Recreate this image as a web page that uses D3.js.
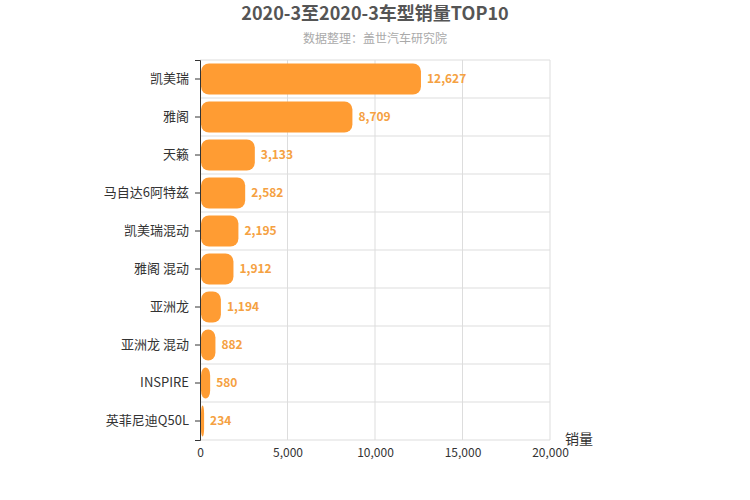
<!DOCTYPE html>
<html><head><meta charset="utf-8">
<script src="https://cdn.jsdelivr.net/npm/d3@7"></script>
<style>body{margin:0;background:#fff}</style></head>
<body><svg id="c" width="750" height="500"></svg>
<script>
const categories=["凯美瑞","雅阁","天籁","马自达6阿特兹","凯美瑞混动","雅阁 混动","亚洲龙","亚洲龙 混动","INSPIRE","英菲尼迪Q50L"];
const values=[12627,8709,3133,2582,2195,1912,1194,882,580,234];
const xTicks=[0,5000,10000,15000,20000];
const title="2020-3至2020-3车型销量TOP10", subtitle="数据整理：盖世汽车研究院", axisName="销量";
const svg=d3.select("#c"), F="'Microsoft YaHei','Noto Sans CJK SC',sans-serif";
const L=200,R=550,T=60,B=440;
const x=d3.scaleLinear().domain([0,20000]).range([L,R]);
const y=d3.scaleBand().domain(categories).range([T,B]);
svg.append("text").attr("x",375).attr("y",20).attr("text-anchor","middle").attr("font-family",F).attr("font-weight","bold").attr("font-size",18).attr("fill","#555").text(title);
svg.append("text").attr("x",375).attr("y",43).attr("text-anchor","middle").attr("font-family",F).attr("font-size",12).attr("fill","#aaa").text(subtitle);
svg.selectAll(".vg").data(xTicks.slice(1)).join("line").attr("x1",d=>x(d)).attr("x2",d=>x(d)).attr("y1",T).attr("y2",B).attr("stroke","#ddd");
svg.selectAll(".hg").data(categories).join("line").attr("x1",L).attr("x2",R).attr("y1",d=>y(d)).attr("y2",d=>y(d)).attr("stroke","#ddd");
svg.append("line").attr("x1",L).attr("x2",R).attr("y1",B).attr("y2",B).attr("stroke","#ddd");
const ax=svg.append("g").attr("transform",`translate(0,${B})`).call(d3.axisBottom(x).tickValues(xTicks).tickFormat(d3.format(",")).tickSize(0).tickPadding(8));
ax.select(".domain").remove();
ax.selectAll("text").attr("font-family",F).attr("font-size",12).attr("fill","#333");
const ay=svg.append("g").attr("transform",`translate(${L},0)`).call(d3.axisLeft(y).tickSize(5).tickPadding(6));
ay.select(".domain").attr("stroke","#333");
ay.selectAll("line").attr("stroke","#333");
ay.selectAll("text").attr("font-family",F).attr("font-size",13).attr("fill","#333");
const bh=31;
svg.selectAll(".bar").data(values).join("rect").attr("fill","#ff9c33")
 .attr("x",x(0)+1).attr("width",v=>x(v)-x(0)-1)
 .attr("y",(v,i)=>y(categories[i])+(y.bandwidth()-bh)/2).attr("height",bh)
 .attr("rx",v=>Math.min(8,(x(v)-x(0)-1)/2)).attr("ry",8);
svg.selectAll(".lbl").data(values).join("text").attr("x",v=>x(v)+6).attr("y",(v,i)=>y(categories[i])+y.bandwidth()/2+4).attr("font-family",F).attr("font-size",12).attr("font-weight","bold").attr("fill","#f5a142").text(d3.format(","));
svg.append("text").attr("x",565).attr("y",444).attr("font-family",F).attr("font-size",14).attr("fill","#333").text(axisName);
</script></body></html>
